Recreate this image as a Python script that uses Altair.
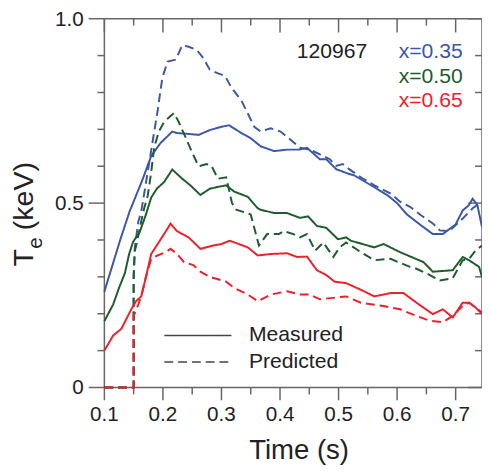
import altair as alt
import pandas as pd

# ---------------- data ----------------
b_meas_t = [0.100, 0.127, 0.143, 0.1655, 0.180, 0.196, 0.216, 0.224, 0.241, 0.261, 0.280, 0.300, 0.313,
            0.334, 0.350, 0.367, 0.390, 0.412, 0.434, 0.446, 0.468, 0.479, 0.496, 0.518, 0.527, 0.560,
            0.583, 0.600, 0.617, 0.639, 0.661, 0.678, 0.700, 0.712, 0.723, 0.729, 0.737, 0.745]
b_meas_T = [0.260, 0.400, 0.477, 0.565, 0.628, 0.663, 0.694, 0.690, 0.688, 0.685, 0.698, 0.707, 0.711,
            0.690, 0.676, 0.654, 0.641, 0.645, 0.645, 0.650, 0.619, 0.619, 0.592, 0.579, 0.575, 0.544,
            0.522, 0.500, 0.469, 0.442, 0.416, 0.416, 0.442, 0.480, 0.495, 0.512, 0.495, 0.435]

b_pred_t = [0.100, 0.150, 0.150, 0.152, 0.158, 0.163, 0.174, 0.182, 0.191, 0.199, 0.208, 0.222, 0.233,
            0.244, 0.258, 0.269, 0.280, 0.292, 0.306, 0.317, 0.334, 0.345, 0.356, 0.367, 0.384, 0.401,
            0.418, 0.434, 0.451, 0.468, 0.485, 0.496, 0.507, 0.518, 0.540, 0.561, 0.589, 0.605, 0.622,
            0.639, 0.661, 0.673, 0.689, 0.712, 0.729, 0.745]
b_pred_T = [0.000, 0.000, 0.300, 0.380, 0.450, 0.477, 0.584, 0.663, 0.751, 0.840, 0.884, 0.889, 0.928,
            0.924, 0.915, 0.893, 0.862, 0.853, 0.845, 0.813, 0.778, 0.743, 0.707, 0.694, 0.703, 0.694,
            0.672, 0.650, 0.645, 0.632, 0.619, 0.601, 0.606, 0.592, 0.568, 0.548, 0.526, 0.504, 0.490,
            0.469, 0.445, 0.426, 0.424, 0.458, 0.486, 0.504]

g_meas_t = [0.100, 0.115, 0.125, 0.135, 0.142, 0.149, 0.160, 0.171, 0.180, 0.190, 0.202, 0.216, 0.233,
            0.247, 0.264, 0.280, 0.294, 0.308, 0.322, 0.345, 0.362, 0.367, 0.390, 0.412, 0.434, 0.448,
            0.463, 0.479, 0.499, 0.513, 0.521, 0.561, 0.577, 0.605, 0.645, 0.661, 0.695, 0.712, 0.723,
            0.740, 0.745]
g_meas_T = [0.180, 0.225, 0.270, 0.310, 0.360, 0.395, 0.420, 0.469, 0.515, 0.540, 0.557, 0.591, 0.566,
            0.548, 0.522, 0.539, 0.544, 0.548, 0.531, 0.517, 0.486, 0.482, 0.473, 0.473, 0.460, 0.464,
            0.438, 0.433, 0.402, 0.407, 0.398, 0.380, 0.389, 0.367, 0.340, 0.314, 0.318, 0.354, 0.345,
            0.327, 0.300]

g_pred_t = [0.100, 0.150, 0.150, 0.152, 0.155, 0.163, 0.168, 0.174, 0.180, 0.185, 0.193, 0.202, 0.212,
            0.219, 0.227, 0.238, 0.250, 0.261, 0.275, 0.283, 0.294, 0.308, 0.318, 0.325, 0.342, 0.350,
            0.356, 0.364, 0.378, 0.398, 0.406, 0.423, 0.434, 0.446, 0.460, 0.474, 0.491, 0.502, 0.513,
            0.521, 0.538, 0.561, 0.589, 0.605, 0.622, 0.633, 0.656, 0.673, 0.695, 0.712, 0.723, 0.734,
            0.745]
g_pred_T = [0.000, 0.000, 0.300, 0.371, 0.389, 0.451, 0.486, 0.520, 0.584, 0.650, 0.694, 0.720, 0.735,
            0.744, 0.720, 0.681, 0.637, 0.600, 0.606, 0.601, 0.566, 0.570, 0.500, 0.482, 0.474, 0.469,
            0.433, 0.385, 0.416, 0.416, 0.424, 0.416, 0.407, 0.416, 0.371, 0.393, 0.354, 0.380, 0.393,
            0.385, 0.367, 0.345, 0.349, 0.338, 0.327, 0.322, 0.305, 0.290, 0.296, 0.345, 0.349, 0.371,
            0.385]

r_meas_t = [0.100, 0.115, 0.129, 0.146, 0.154, 0.163, 0.171, 0.180, 0.191, 0.202, 0.213, 0.224, 0.244,
            0.264, 0.286, 0.300, 0.314, 0.345, 0.362, 0.384, 0.412, 0.429, 0.446, 0.463, 0.479, 0.493,
            0.513, 0.538, 0.561, 0.589, 0.611, 0.633, 0.661, 0.678, 0.695, 0.712, 0.723, 0.734, 0.745]
r_meas_T = [0.100, 0.141, 0.159, 0.212, 0.234, 0.247, 0.300, 0.362, 0.389, 0.416, 0.444, 0.424, 0.407,
            0.376, 0.385, 0.389, 0.398, 0.380, 0.358, 0.362, 0.364, 0.354, 0.355, 0.318, 0.305, 0.287,
            0.283, 0.265, 0.247, 0.256, 0.256, 0.230, 0.199, 0.212, 0.190, 0.230, 0.230, 0.217, 0.199]

r_pred_t = [0.100, 0.150, 0.150, 0.157, 0.163, 0.171, 0.180, 0.191, 0.205, 0.213, 0.224, 0.236, 0.252,
            0.264, 0.280, 0.297, 0.308, 0.322, 0.345, 0.362, 0.384, 0.412, 0.434, 0.451, 0.468, 0.490,
            0.513, 0.538, 0.577, 0.605, 0.633, 0.656, 0.678, 0.695, 0.712, 0.723, 0.734, 0.745]
r_pred_T = [0.000, 0.000, 0.194, 0.221, 0.247, 0.300, 0.349, 0.358, 0.367, 0.376, 0.362, 0.340, 0.332,
            0.314, 0.300, 0.292, 0.287, 0.270, 0.252, 0.234, 0.252, 0.261, 0.252, 0.252, 0.239, 0.243,
            0.247, 0.230, 0.221, 0.212, 0.194, 0.181, 0.177, 0.194, 0.221, 0.230, 0.217, 0.203]

series_names = ["x=0.35", "x=0.50", "x=0.65"]
series_colors = ["#3A57A8", "#1E5C2C", "#F0202A"]
kinds = ["Measured", "Predicted"]

shot_label = "120967"
x_major = [0.1, 0.2, 0.3, 0.4, 0.5, 0.6, 0.7]
x_labels = ["0.1", "0.2", "0.3", "0.4", "0.5", "0.6", "0.7"]
x_minor = [0.15, 0.25, 0.35, 0.45, 0.55, 0.65]
y_major = [0.0, 0.5, 1.0]
y_labels = ["0", "0.5", "1.0"]
y_minor = [0.1, 0.2, 0.3, 0.4, 0.6, 0.7, 0.8, 0.9]
x_title = "Time (s)"

# ---------------- layout constants ----------------
FONT = "Liberation Sans"
AX = "#666666"
TXT = "#222222"
W, H = 384, 375
X0, X1 = 0.1, 0.745
Y0, Y1 = 0.0, 1.0
PX = (X1 - X0) / W   # data units of one pixel, horizontally
PY = (Y1 - Y0) / H   # data units of one pixel, vertically

# ---------------- tables ----------------
rows = []
for name, kind, ts, Ts in [
    ("x=0.35", "Measured", b_meas_t, b_meas_T),
    ("x=0.35", "Predicted", b_pred_t, b_pred_T),
    ("x=0.50", "Measured", g_meas_t, g_meas_T),
    ("x=0.50", "Predicted", g_pred_t, g_pred_T),
    ("x=0.65", "Measured", r_meas_t, r_meas_T),
    ("x=0.65", "Predicted", r_pred_t, r_pred_T),
]:
    for i, (t, T) in enumerate(zip(ts, Ts)):
        rows.append({"t": t, "T": T, "series": name, "kind": kind, "ord": i})
df = pd.DataFrame(rows)

ann = pd.DataFrame({
    "t": [0.549, 0.712, 0.712, 0.712],
    "T": [0.910, 0.910, 0.843, 0.777],
    "label": [shot_label] + series_names,
    "col": ["#222222"] + series_colors,
})
leg_lines = pd.DataFrame({"t": [0.2025, 0.2025], "t2": [0.317, 0.317], "T": [0.141, 0.069], "kind": kinds})
leg_text = pd.DataFrame({"t": [0.347, 0.347], "T": [0.141, 0.069], "label": kinds})
xmaj_df = pd.DataFrame({"t": x_major, "label": x_labels})
ymaj_df = pd.DataFrame({"T": y_major, "label": y_labels})
one_df = pd.DataFrame({"v": [0]})

# frame segments: spines and tick marks, each from (a, c) to (b, d) in data units
seg = []
seg += [(X0, X1, Y0, Y0), (X0, X1, Y1, Y1), (X0, X0, Y0, Y1), (X1, X1, Y0, Y1)]
seg += [(v, v, Y0, Y0 - 13 * PY) for v in x_major] + [(v, v, Y0, Y0 - 7 * PY) for v in x_minor]
seg += [(v, v, Y1, Y1 - 14 * PY) for v in x_major] + [(v, v, Y1, Y1 - 7 * PY) for v in x_minor]
seg += [(X0, X0 - 16 * PX, v, v) for v in y_major] + [(X0, X0 - 7 * PX, v, v) for v in y_minor]
seg += [(X1, X1 - 14 * PX, v, v) for v in y_major] + [(X1, X1 - 7 * PX, v, v) for v in y_minor]
frame_df = pd.DataFrame(seg, columns=["a", "b", "c", "d"])

# ---------------- chart ----------------
xs = alt.Scale(domain=[X0, X1], nice=False, zero=False)
ys = alt.Scale(domain=[Y0, Y1], nice=False, zero=False)
X = alt.X("t:Q", scale=xs, axis=None)
Y = alt.Y("T:Q", scale=ys, axis=None)

color_enc = alt.Color("series:N", scale=alt.Scale(domain=series_names, range=series_colors), legend=None)
dash_enc = alt.StrokeDash("kind:N", scale=alt.Scale(domain=kinds, range=[[1, 0], [9, 5]]), legend=None)

lines = alt.Chart(df).mark_line(strokeWidth=2).encode(
    x=X, y=Y, color=color_enc, strokeDash=dash_enc, order="ord:Q",
)

frame = alt.Chart(frame_df).mark_rule(color=AX, strokeWidth=1.5).encode(
    x=alt.X("a:Q", scale=xs, axis=None), x2="b:Q",
    y=alt.Y("c:Q", scale=ys, axis=None), y2="d:Q",
)

x_tick_labels = alt.Chart(xmaj_df).mark_text(align="center", baseline="middle", font=FONT,
                                             fontSize=21, color=TXT).encode(
    x=X, y=alt.value(H + 28), text="label:N")
y_tick_labels = alt.Chart(ymaj_df).mark_text(align="right", baseline="middle", font=FONT,
                                             fontSize=21, color=TXT, dy=1).encode(
    y=Y, x=alt.value(-21), text="label:N")
x_title_mark = alt.Chart(one_df).mark_text(align="center", baseline="alphabetic", font=FONT,
                                           fontSize=28, color=TXT).encode(
    x=alt.value(W / 2 + 6), y=alt.value(H + 73), text=alt.value(x_title))

ann_layer = alt.Chart(ann).mark_text(align="right", baseline="middle", font=FONT, fontSize=21.5).encode(
    x=X, y=Y, text="label:N", color=alt.Color("col:N", scale=None),
)

leg_rule = alt.Chart(leg_lines).mark_rule(strokeWidth=1.5, color="#444444").encode(
    x=X, x2="t2:Q", y=Y, strokeDash=dash_enc,
)

leg_txt = alt.Chart(leg_text).mark_text(align="left", baseline="middle", font=FONT, fontSize=21.5,
                                         color=TXT).encode(x=X, y=Y, text="label:N")

# y-axis title "T_e (keV)" built from rotated text pieces (subscript e)
title_T = alt.Chart(one_df).mark_text(angle=270, align="left", baseline="alphabetic", font=FONT,
                                      fontSize=29, color=TXT).encode(
    x=alt.value(-73), y=alt.value(252), text=alt.value("T"))
title_e = alt.Chart(one_df).mark_text(angle=270, align="left", baseline="alphabetic", font=FONT,
                                      fontSize=21, color=TXT).encode(
    x=alt.value(-63), y=alt.value(234), text=alt.value("e"))
title_u = alt.Chart(one_df).mark_text(angle=270, align="left", baseline="alphabetic", font=FONT,
                                      fontSize=29, color=TXT).encode(
    x=alt.value(-73), y=alt.value(215), text=alt.value("(keV)"))

chart = alt.layer(frame, lines, x_tick_labels, y_tick_labels, x_title_mark,
                  ann_layer, leg_rule, leg_txt, title_T, title_e, title_u).properties(
    width=W, height=H,
    autosize=alt.AutoSizeParams(type="none"),
    padding={"left": 98, "top": 7, "right": 0, "bottom": 80},
).configure_view(strokeWidth=0)

chart.save("out.html", embed_options={"renderer": "svg", "actions": False})
